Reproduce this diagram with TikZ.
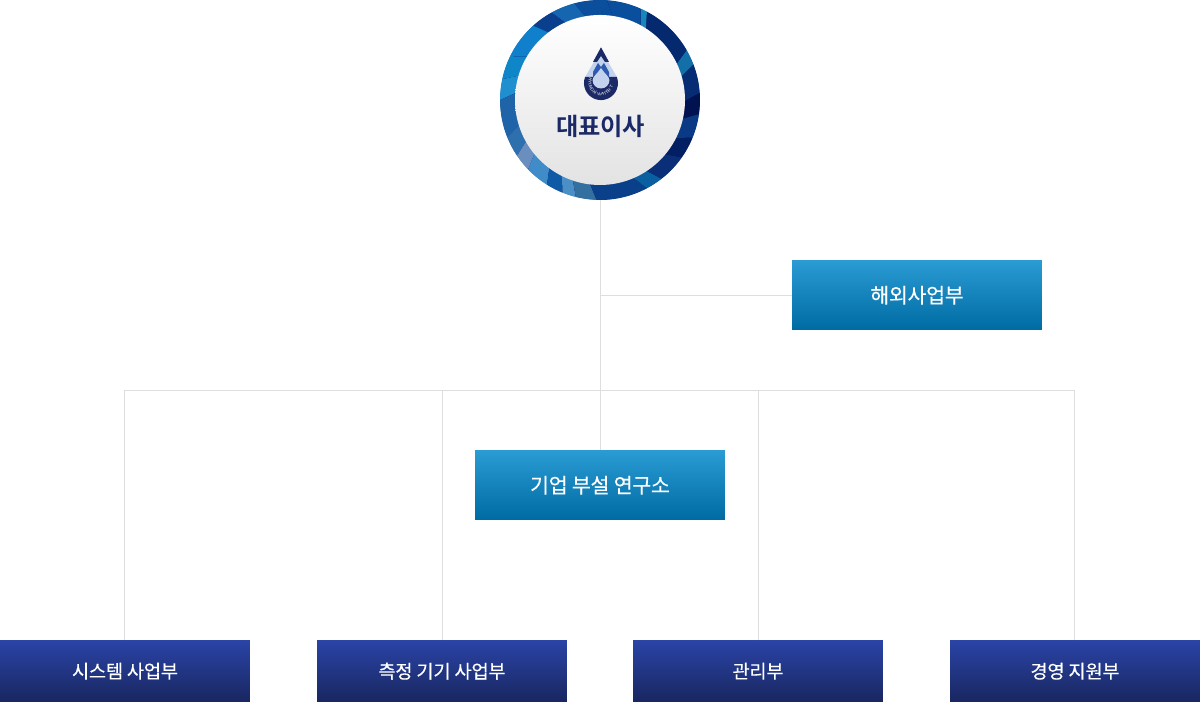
\documentclass[tikz,border=0pt]{standalone}
\usepackage{fontspec}
\usetikzlibrary{decorations.text}
\newfontfamily\krfont[FakeBold=0.25,LetterSpace=-1.5]{Noto Sans CJK KR}
\newfontfamily\krbold[LetterSpace=-1.5]{Noto Sans CJK KR Bold}
\definecolor{linkgray}{HTML}{DEDEDE}
\definecolor{logonavy}{HTML}{1B2A66}
\definecolor{logomid}{HTML}{2F5BAE}
\definecolor{logolight}{HTML}{C3D3EE}
\definecolor{navytop}{HTML}{2A44A6}
\definecolor{navybot}{HTML}{192660}
\definecolor{cyantop}{HTML}{2A9BD3}
\definecolor{cyanbot}{HTML}{006BA3}
\tikzset{
  deptbox/.style={minimum width=5cm,inner sep=0pt,text=white},
  cyanbox/.style={deptbox,minimum height=1.39cm,top color=cyantop,bottom color=cyanbot,font=\krfont\fontsize{11.7}{13}\selectfont},
  navybox/.style={deptbox,minimum height=1.23cm,top color=navytop,bottom color=navybot,font=\krfont\fontsize{10.65}{12}\selectfont},
  linkline/.style={draw=linkgray,line width=0.57pt}
}
\begin{document}
\begin{tikzpicture}
[x=0.02cm,y=0.02cm]
\useasboundingbox (0,0) rectangle (1200,702);
% boxes
\node[cyanbox] (overseas) at (917,406.75) {해외사업부};
\node[cyanbox] (lab) at (600,216.75) {기업 부설 연구소};
\node[navybox] (system) at (125,30.75) {시스템 사업부};
\node[navybox] (measure) at (442,30.75) {측정 기기 사업부};
\node[navybox] (admin) at (758,30.75) {관리부};
\node[navybox] (support) at (1075,30.75) {경영 지원부};
% president
\node[circle,minimum size=4cm,inner sep=0pt] (ceo) at (600,602) {};
\coordinate (branch) at (600,406.5);
\coordinate (bus) at (600,311.5);
\coordinate (systemtop) at (124.5,61.5);
\coordinate (supporttop) at (1074.5,61.5);
% connectors
\draw[linkline] (ceo.south) -- (lab.north);
\draw[linkline] (branch) -- (overseas.west |- branch);
\draw[linkline] (systemtop) |- (bus);
\draw[linkline] (supporttop) |- (bus);
\draw[linkline] (measure.north) -- (measure.north |- bus);
\draw[linkline] (admin.north) -- (admin.north |- bus);
% ring
\begin{scope}[shift={(600,602)}]
\fill[black!20!blue!50!black] (0,0) circle (99.6);
\foreach \a/\b/\c in {
  4/21/062C74,21/30/136FA8,30/62/05296F,62/66/1A86B8,66/86/0A4F9E,86/105/0A4E9C,
  105/119/1565B0,119/132/0A3F8E,132/154/1180CC,154/168/0E86C8,168/180/1F8FD0,
  180/202/1F63A8,202/214/2E6FAE,214/224/6A8FBF,224/238/3F8CC8,238/248/0F5AA6,
  248/256/4A8FC6,256/268/34709F,268/298/0A3F8A,298/308/0A5FA0,308/325/0A2F78,
  325/338/021F63,338/352/0A3A86,352/364/00124F}
{
  \definecolor{facet}{HTML}{\c}
  \fill[facet] (\a:100) arc (\a:\b:100) -- (\b-5:84) arc (\b-5:\a-5:84) -- cycle;
}
\shade[top color=white,bottom color=black!11] (0,0) circle (85);
\end{scope}
% logo
\fill[logolight] (601,652) -- (617.5,624) -- (584.5,624) -- cycle;
\fill[logomid] (593,630) -- (598,639) -- (601,635) -- (604,639) -- (609,630) -- (609,624) -- (593,624) -- cycle;
\fill[logonavy] (601,654.7) -- (609,640) -- (605,640) -- (601,646) -- (597,640) -- (593,640) -- cycle;
\fill[logonavy] (585.1,625) arc (159:381:17) -- cycle;
\fill[logolight] (601,634) .. controls (598,629) and (592.5,625) .. (592.5,622) arc (180:360:8.5) .. controls (609.5,625) and (604,629) .. (601,634) -- cycle;
\path[decorate,decoration={text along path,text align=center,
  text={|\sffamily\fontsize{2.4}{2.4}\selectfont\color{white}|HYUNDAI WATER TECH}}]
  (601,619) ++(190:12.5) arc (190:350:12.5);
\node[text=logonavy,font=\krbold\fontsize{13.8}{16}\selectfont,inner sep=0pt] (ceotext) at (601,576) {대표이사};
\end{tikzpicture}
\end{document}
